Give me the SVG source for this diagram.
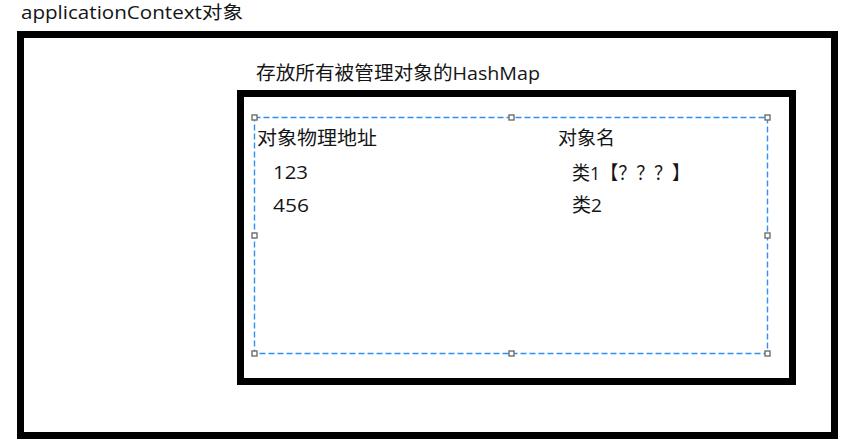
<svg xmlns="http://www.w3.org/2000/svg" width="843" height="445" viewBox="0 0 843 445">
<style>
.t{font-family:"Open Sans","Noto Sans CJK SC",sans-serif;fill:#151515}
.box{fill:none;stroke:#000;stroke-width:7}
.sel{fill:none;stroke:#2f8ff5;stroke-width:1.4;stroke-dasharray:6 3}
.h{fill:#fff;stroke:#6e6e6e;stroke-width:1.4}
</style>
<rect width="843" height="445" fill="#fff"/>
<g id="applicationContext">
<rect class="box" x="20.5" y="34.5" width="814" height="401"/>
<text class="t" x="21" y="19" font-size="18" textLength="222" lengthAdjust="spacingAndGlyphs">applicationContext对象</text>
</g>
<g id="hashmap">
<rect class="box" x="240.5" y="93.5" width="552" height="288"/>
<text class="t" x="256" y="80" font-size="19" textLength="284" lengthAdjust="spacingAndGlyphs">存放所有被管理对象的HashMap</text>
</g>
<g id="selection">
<rect class="sel" x="254.5" y="117.5" width="513" height="236"/>
<rect class="h" x="252" y="115" width="5" height="5"/>
<rect class="h" x="509" y="115" width="5" height="5"/>
<rect class="h" x="765" y="115" width="5" height="5"/>
<rect class="h" x="252" y="233" width="5" height="5"/>
<rect class="h" x="765" y="233" width="5" height="5"/>
<rect class="h" x="252" y="351" width="5" height="5"/>
<rect class="h" x="509" y="351" width="5" height="5"/>
<rect class="h" x="765" y="351" width="5" height="5"/>
</g>
<g id="table">
<text class="t" x="257" y="145" font-size="19" textLength="120" lengthAdjust="spacingAndGlyphs">对象物理地址</text>
<text class="t" x="273" y="179" font-size="19" textLength="35" lengthAdjust="spacingAndGlyphs">123</text>
<text class="t" x="273" y="212" font-size="19" textLength="36" lengthAdjust="spacingAndGlyphs">456</text>
<text class="t" x="558" y="145" font-size="19" textLength="57" lengthAdjust="spacingAndGlyphs">对象名</text>
<text class="t" x="572" y="180" font-size="19" textLength="118" lengthAdjust="spacingAndGlyphs">类1【？？？】</text>
<text class="t" x="572" y="212" font-size="19" textLength="30" lengthAdjust="spacingAndGlyphs">类2</text>
</g>
</svg>
